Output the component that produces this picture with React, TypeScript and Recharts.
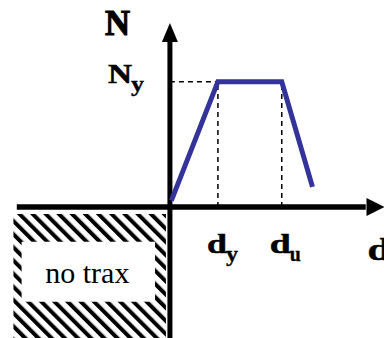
import React from "react";
import {
  LineChart,
  Line,
  XAxis,
  YAxis,
  ReferenceLine,
  ReferenceArea,
  ReferenceDot,
} from "recharts";

// Idealised N-d (axial force vs displacement) law: elastic, plateau, softening.
// Displacements are normalised by d_y, forces by N_y.

const displacements = [0.03, 1, 2.33, 2.97];
const forces = [0.05, 1, 1, 0.16];

const DY = 1;
const DU = 2.33;
const NY = 1;

// visible window of the drawing
const X_MIN = -3.54;
const X_MAX = 4.46;
const Y_MIN = -1.046;
const Y_MAX = 1.652;

// axis extents (arrow bases / tips)
const X_AXIS_START = -3.19;
const X_ARROW_BASE = 4.08;
const X_ARROW_TIP = 4.45;
const Y_ARROW_BASE = 1.317;
const Y_ARROW_TIP = 1.468;

// "no trax" region (compression side not carried)
const HATCH_X = [-3.26, -0.083];
const HATCH_Y = [Y_MIN, -0.056];
const NOTE_X = [-3.09, -0.31];
const NOTE_Y = [-0.756, -0.277];

const data = displacements.map((d, i) => ({ d, n: forces[i] }));

const SERIF = "Liberation Serif, Times New Roman, serif";
const BLUE = "#33339a";

function SubLabel({
  x,
  y,
  main,
  sub,
  size,
  width,
  subSize,
  subWidth,
  subDy,
  heavy = 0.5,
}: {
  x: number;
  y: number;
  main: string;
  sub?: string;
  size: number;
  width?: number;
  subSize?: number;
  subWidth?: number;
  subDy?: number;
  heavy?: number;
}) {
  return (
    <g>
      <text
        x={x}
        y={y}
        fontFamily={SERIF}
        fontWeight="bold"
        fill="#000"
        stroke="#000"
        strokeWidth={heavy}
        fontSize={size}
        textLength={width}
        lengthAdjust={width ? "spacingAndGlyphs" : undefined}
      >
        {main}
      </text>
      {sub && (
        <text
          x={x + (width ?? size * 0.6) - 1}
          y={y + (subDy ?? 8)}
          fontFamily={SERIF}
          fontWeight="bold"
          fill="#000"
          stroke="#000"
          strokeWidth={heavy * 0.6}
          fontSize={subSize}
          textLength={subWidth}
          lengthAdjust={subWidth ? "spacingAndGlyphs" : undefined}
        >
          {sub}
        </text>
      )}
    </g>
  );
}

const NoteLabel = (p: any) => {
  const vb = p.viewBox;
  return (
    <text
      x={vb.x + vb.width / 2 - 1}
      y={vb.y + vb.height / 2 + 11}
      textAnchor="middle"
      style={{ fontFamily: SERIF, fontSize: 30, fill: "#000" }}
    >
      no trax
    </text>
  );
};

const upArrow = (p: any) => (
  <polygon
    points={`${p.cx},${p.cy} ${p.cx - 8},${p.cy + 19} ${p.cx + 8},${p.cy + 19}`}
    fill="#000"
  />
);

const rightArrow = (p: any) => (
  <polygon
    points={`${p.cx + 1},${p.cy} ${p.cx - 17},${p.cy - 9} ${p.cx - 17},${p.cy + 9}`}
    fill="#000"
  />
);

export default function App() {
  return (
    <div style={{ position: "absolute", left: 0, top: 0, background: "#fff" }}>
      <LineChart
        width={384}
        height={338}
        data={data}
        margin={{ top: 0, right: 0, bottom: 0, left: 0 }}
      >
        <defs>
          <pattern
            id="hatch"
            patternUnits="userSpaceOnUse"
            width="9.3"
            height="9.3"
            patternTransform="rotate(-45)"
          >
            <rect x="0" y="0" width="9.3" height="9.3" fill="#fff" />
            <rect x="0" y="0" width="4" height="9.3" fill="#000" />
          </pattern>
        </defs>
        <XAxis type="number" dataKey="d" domain={[X_MIN, X_MAX]} hide allowDataOverflow />
        <YAxis type="number" domain={[Y_MIN, Y_MAX]} hide allowDataOverflow />

        <ReferenceArea
          x1={HATCH_X[0]}
          x2={HATCH_X[1]}
          y1={HATCH_Y[0]}
          y2={HATCH_Y[1]}
          fill="url(#hatch)"
          fillOpacity={1}
          stroke="none"
        />
        <ReferenceArea
          x1={NOTE_X[0]}
          x2={NOTE_X[1]}
          y1={NOTE_Y[0]}
          y2={NOTE_Y[1]}
          fill="#fff"
          fillOpacity={1}
          stroke="none"
          label={NoteLabel}
        />

        {/* guide lines to N_y, d_y, d_u */}
        <ReferenceLine
          segment={[{ x: 0, y: NY }, { x: DY, y: NY }]}
          stroke="#000"
          strokeWidth={1.5}
          strokeDasharray="5 4"
        />
        <ReferenceLine
          segment={[{ x: DY, y: 0 }, { x: DY, y: NY }]}
          stroke="#000"
          strokeWidth={1.5}
          strokeDasharray="5 4"
        />
        <ReferenceLine
          segment={[{ x: DU, y: 0 }, { x: DU, y: NY }]}
          stroke="#000"
          strokeWidth={1.5}
          strokeDasharray="5 4"
        />

        {/* axes */}
        <ReferenceLine
          segment={[{ x: X_AXIS_START, y: 0 }, { x: X_ARROW_BASE, y: 0 }]}
          stroke="#000"
          strokeWidth={5.5}
        />
        <ReferenceLine
          segment={[{ x: 0, y: Y_MIN }, { x: 0, y: Y_ARROW_BASE }]}
          stroke="#000"
          strokeWidth={5}
        />
        <ReferenceDot x={0} y={Y_ARROW_TIP} r={0} shape={upArrow} />
        <ReferenceDot x={X_ARROW_TIP} y={0} r={0} shape={rightArrow} />

        <Line
          type="linear"
          dataKey="n"
          stroke={BLUE}
          strokeWidth={5}
          dot={false}
          activeDot={false}
          isAnimationActive={false}
        />

        {/* labels */}
        <ReferenceDot
          x={0}
          y={Y_ARROW_TIP}
          r={0}
          shape={(p: any) => (
            <SubLabel x={p.cx - 65} y={p.cy + 12} main="N" size={36} width={25} heavy={1.2} />
          )}
        />
        <ReferenceDot
          x={0}
          y={NY}
          r={0}
          shape={(p: any) => (
            <SubLabel
              x={p.cx - 62}
              y={p.cy + 1.5}
              main="N"
              size={27}
              width={24}
              sub="y"
              subSize={21}
              subWidth={13}
              subDy={8}
            />
          )}
        />
        <ReferenceDot
          x={DY}
          y={0}
          r={0}
          shape={(p: any) => (
            <SubLabel
              x={p.cx - 11}
              y={p.cy + 46}
              main="d"
              size={27}
              width={20}
              sub="y"
              subSize={21}
              subWidth={12}
              subDy={8}
            />
          )}
        />
        <ReferenceDot
          x={DU}
          y={0}
          r={0}
          shape={(p: any) => (
            <SubLabel
              x={p.cx - 12}
              y={p.cy + 46}
              main="d"
              size={27}
              width={21}
              sub="u"
              subSize={21}
              subWidth={11}
              subDy={8}
            />
          )}
        />
        <ReferenceDot
          x={X_ARROW_TIP}
          y={0}
          r={0}
          shape={(p: any) => (
            <SubLabel x={p.cx - 16} y={p.cy + 53} main="d" size={31} width={23} />
          )}
        />
      </LineChart>
    </div>
  );
}
